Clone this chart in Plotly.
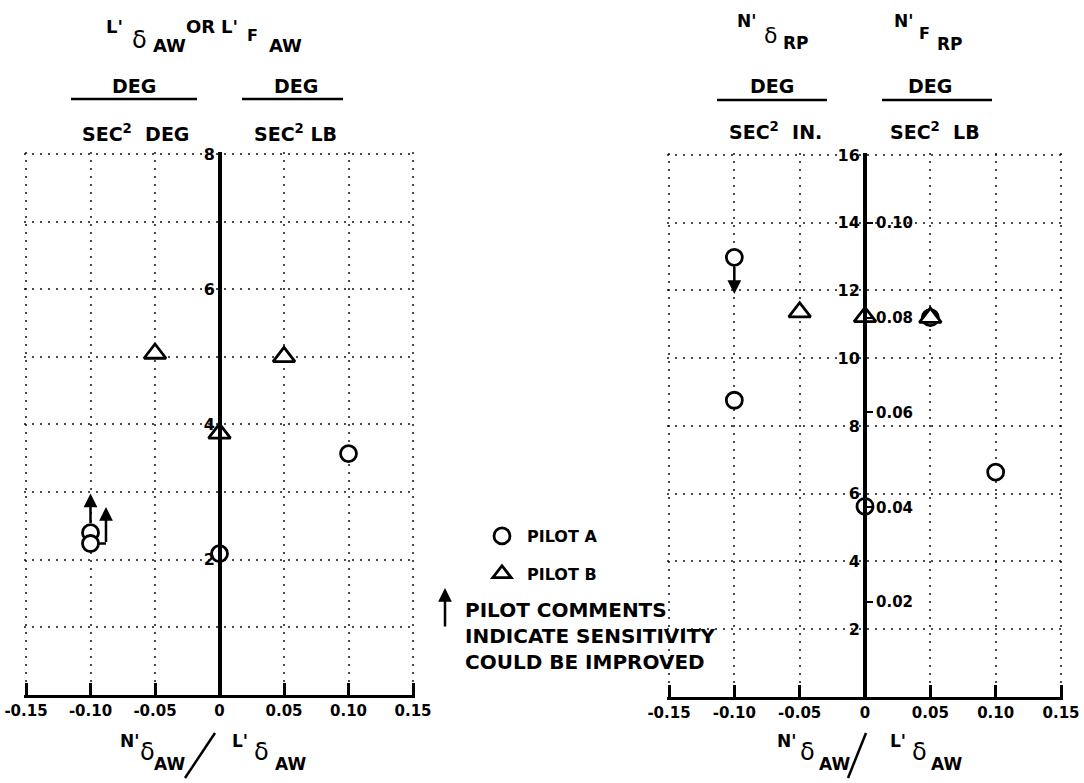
import plotly.graph_objects as go

W, H = 1084, 783

# ---------------- data ----------------
left_a_x = [-0.10, -0.10, 0.0, 0.10]
left_a_y = [2.40, 2.24, 2.09, 3.57]
left_b_x = [-0.05, 0.0, 0.05]
left_b_y = [5.05, 3.87, 5.00]

right_a_x = [-0.10, -0.10, 0.0, 0.10, 0.05]
right_a_y = [12.98, 8.76, 5.63, 6.64, 11.20]
right_b_x = [-0.05, 0.0, 0.05]
right_b_y = [11.36, 11.22, 11.20]

x_ticks = [-0.15, -0.10, -0.05, 0.0, 0.05, 0.10, 0.15]
x_tick_labels = ["-0.15", "-0.10", "-0.05", "0", "0.05", "0.10", "0.15"]
left_y_ticks = [1, 2, 3, 4, 5, 6, 7, 8]
left_y_labels = ["", "2", "", "4", "", "6", "", "8"]
right_y_ticks = [2, 4, 6, 8, 10, 12, 14, 16]
right_y_labels = ["2", "4", "6", "8", "10", "12", "14", "16"]
force_ticks = [0.02, 0.04, 0.06, 0.08, 0.10]
force_labels = ["0.02", "0.04", "0.06", "0.08", "0.10"]
force_ratio = 140.0  # N'dRP units per N'FRP unit

# pilot-comment arrows (tail -> head) in data units
left_arrow_x = [-0.10, -0.088]
left_arrow_y0 = [2.52, 2.24]
left_arrow_y1 = [2.98, 2.78]
left_link_x = [-0.094, -0.088]
left_link_y = [2.24, 2.24]
right_arrow_x = [-0.10]
right_arrow_y0 = [12.74]
right_arrow_y1 = [11.90]

# ---------------- helpers ----------------
def PX(px):
    return px / W

def PY(py):
    return 1 - py / H

FONT = "DejaVu Sans"
BLACK = "black"
GRID = "rgba(0,0,0,0.7)"
GRIDDASH = "2px,6px"

# small range padding so edge gridlines / end ticks are drawn
XMIN, XMAX, XPAD = -0.15, 0.15, 0.0012
L_YMAX, L_YPAD = 8.0, 0.025
R_YMAX, R_YPAD = 16.0, 0.05

def xdomain(p0, p1):
    span = XMAX - XMIN
    pad = XPAD / span * (p1 - p0)
    return [PX(p0 - pad), PX(p1 + pad)]

def ydomain(pbot, ptop, ymax, ypad):
    pad = ypad / ymax * (pbot - ptop)
    return [PY(pbot), PY(ptop - pad)]

fig = go.Figure()

circle = dict(symbol="circle", size=16, color="white", line=dict(color=BLACK, width=2.8))
tri = dict(symbol="triangle-up", size=19, color="white", line=dict(color=BLACK, width=2.8))

fig.add_trace(go.Scatter(x=left_link_x, y=left_link_y, mode="lines",
                         line=dict(color=BLACK, width=2.5), xaxis="x", yaxis="y",
                         showlegend=False, hoverinfo="skip"))
fig.add_trace(go.Scatter(x=left_a_x, y=left_a_y, mode="markers", marker=circle,
                         name="<b>PILOT A</b>", legendgroup="a", xaxis="x", yaxis="y"))
fig.add_trace(go.Scatter(x=left_b_x, y=left_b_y, mode="markers", marker=tri,
                         name="<b>PILOT B</b>", legendgroup="b", xaxis="x", yaxis="y"))
fig.add_trace(go.Scatter(x=right_a_x, y=right_a_y, mode="markers", marker=circle,
                         name="PILOT A", legendgroup="a", showlegend=False,
                         xaxis="x2", yaxis="y2"))
fig.add_trace(go.Scatter(x=right_b_x, y=right_b_y, mode="markers", marker=tri,
                         name="PILOT B", legendgroup="b", showlegend=False,
                         xaxis="x2", yaxis="y2"))
# invisible trace to activate secondary force axis
fig.add_trace(go.Scatter(x=[0], y=[0], mode="markers", marker=dict(opacity=0),
                         showlegend=False, hoverinfo="skip", xaxis="x2", yaxis="y3"))

ann = []
for x, y0, y1 in zip(left_arrow_x, left_arrow_y0, left_arrow_y1):
    ann.append(dict(x=x, y=y1, ax=x, ay=y0, xref="x", yref="y", axref="x", ayref="y",
                    showarrow=True, arrowhead=2, arrowsize=1.1, arrowwidth=2.5,
                    arrowcolor=BLACK, text=""))
for x, y0, y1 in zip(right_arrow_x, right_arrow_y0, right_arrow_y1):
    ann.append(dict(x=x, y=y1, ax=x, ay=y0, xref="x2", yref="y2", axref="x2", ayref="y2",
                    showarrow=True, arrowhead=2, arrowsize=1.1, arrowwidth=2.5,
                    arrowcolor=BLACK, text=""))

def txt(s, px, py, size=19, bold=True, anchor="center"):
    ann.append(dict(text=(f"<b>{s}</b>" if bold else s), x=PX(px), y=PY(py),
                    xref="paper", yref="paper", showarrow=False, xanchor=anchor,
                    yanchor="middle", font=dict(family=FONT, size=size, color=BLACK)))

# left title pieces
txt("L'", 114, 26, 18)
txt("δ", 139, 40, 24, bold=False)
txt("AW", 169, 45, 18)
txt("OR", 200, 26, 18)
txt("L'", 229, 26, 18)
txt("F", 252, 36, 16)
txt("AW", 285, 45, 18)
# left units
txt("DEG", 134, 86, 19)
txt("SEC<sup>2</sup>  DEG", 135, 133, 19)
txt("DEG", 296, 86, 19)
txt("SEC<sup>2</sup> LB", 295, 133, 19)
# right title pieces
txt("N'", 746, 21, 17)
txt("δ", 770, 36, 22, bold=False)
txt("RP", 796, 43, 17)
txt("N'", 903, 21, 17)
txt("F", 924, 34, 16)
txt("RP", 950, 44, 17)
# right units
txt("DEG", 772, 86, 19)
txt("SEC<sup>2</sup>  IN.", 775, 131, 19)
txt("DEG", 930, 86, 19)
txt("SEC<sup>2</sup>  LB", 935, 131, 19)

# x-axis titles
for (nx, dx, awx, lx, d2x, aw2x) in [(129, 147, 169, 240, 261, 290),
                                     (786, 807, 834, 898, 919, 946)]:
    txt("N'", nx, 741, 17)
    txt("δ", dx, 752, 24, bold=False)
    txt("AW", awx, 764, 17)
    txt("L'", lx, 741, 17)
    txt("δ", d2x, 752, 24, bold=False)
    txt("AW", aw2x, 764, 17)

# legend note
txt("PILOT COMMENTS<br>INDICATE SENSITIVITY<br>COULD BE IMPROVED", 463, 636, 20, anchor="left")
ann[-1]["align"] = "left"
ann.append(dict(x=PX(445), y=PY(588), ax=0, ay=40, xref="paper", yref="paper",
                showarrow=True, arrowhead=2, arrowsize=1.1, arrowwidth=2.5,
                arrowcolor=BLACK, text=""))

shapes = []
def hline(x0, x1, y):
    shapes.append(dict(type="line", xref="paper", yref="paper", x0=PX(x0), x1=PX(x1),
                       y0=PY(y), y1=PY(y), line=dict(color=BLACK, width=2.5)))
hline(71, 197, 99)
hline(242, 343, 99)
hline(717, 827, 100)
hline(882, 992, 100)
for sx0, sx1 in ((185, 215), (848, 866)):
    shapes.append(dict(type="line", xref="paper", yref="paper", x0=PX(sx0), x1=PX(sx1),
                       y0=PY(778), y1=PY(733), line=dict(color=BLACK, width=2.5)))

tickfont = dict(family=FONT, size=15, color=BLACK)
xcommon = dict(range=[XMIN - XPAD, XMAX + XPAD], tickvals=x_ticks,
               ticktext=[f"<b>{t}</b>" for t in x_tick_labels],
               ticks="inside", ticklen=12, tickwidth=3, tickcolor=BLACK,
               showline=True, linewidth=3, linecolor=BLACK, showgrid=True,
               gridcolor=GRID, griddash=GRIDDASH, gridwidth=1.5, zeroline=False,
               tickfont=tickfont, fixedrange=True, automargin=False)
ycommon = dict(showline=True, linewidth=4, linecolor=BLACK, ticks="", showgrid=True,
               gridcolor=GRID, griddash=GRIDDASH, gridwidth=1.5, zeroline=False,
               tickfont=dict(family=FONT, size=16, color=BLACK), anchor="free",
               fixedrange=True, automargin=False)

fig.update_layout(
    width=W, height=H, margin=dict(l=0, r=0, t=0, b=0, autoexpand=False),
    paper_bgcolor="white", plot_bgcolor="white",
    font=dict(family=FONT, color=BLACK),
    xaxis=dict(domain=xdomain(26, 413), anchor="y", **xcommon),
    yaxis=dict(domain=ydomain(695, 154, L_YMAX, L_YPAD), range=[0, L_YMAX + L_YPAD],
               position=PX(220), tickvals=left_y_ticks,
               ticktext=[f"<b>{t}</b>" if t else "" for t in left_y_labels], **ycommon),
    xaxis2=dict(domain=xdomain(669, 1061), anchor="y2", **xcommon),
    yaxis2=dict(domain=ydomain(697, 155, R_YMAX, R_YPAD), range=[0, R_YMAX + R_YPAD],
                position=PX(865), tickvals=right_y_ticks,
                ticktext=[f"<b>{t}</b>" for t in right_y_labels], **ycommon),
    yaxis3=dict(overlaying="y2", anchor="free", position=PX(865), side="right",
                range=[0, (R_YMAX + R_YPAD) / force_ratio], tickvals=force_ticks,
                ticktext=[f"<b>{t}</b>" for t in force_labels], ticks="outside",
                ticklen=7, tickwidth=2, tickcolor=BLACK, showline=False, showgrid=False,
                zeroline=False, tickfont=dict(family=FONT, size=15, color=BLACK),
                fixedrange=True, automargin=False),
    legend=dict(x=PX(477), y=PY(519), xanchor="left", yanchor="top",
                font=dict(family=FONT, size=16, color=BLACK), tracegroupgap=14,
                itemwidth=40, bgcolor="rgba(0,0,0,0)"),
    annotations=ann, shapes=shapes,
)

fig.write_html("out.html", config={"displayModeBar": False},
               post_script="document.body.style.margin='0';document.body.style.overflow='hidden';")
